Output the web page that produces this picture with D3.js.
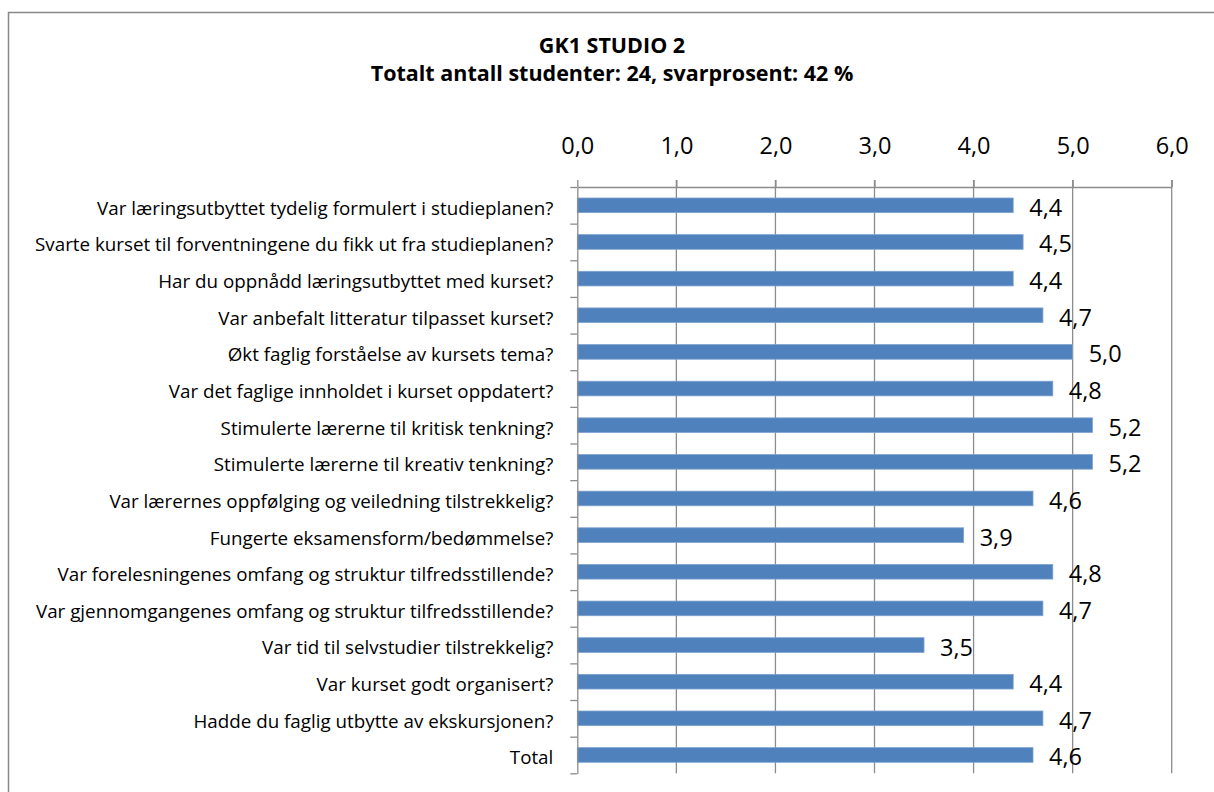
<!DOCTYPE html>
<html>
<head>
<meta charset="utf-8">
<script src="https://cdn.jsdelivr.net/npm/d3@7"></script>
<style>
  body { margin: 0; background: #fff; }
  svg { display: block; font-family: "Open Sans", sans-serif; }
</style>
</head>
<body>
<svg width="1214" height="792"></svg>
<script>
const titleLines = ['GK1 STUDIO 2', 'Totalt antall studenter: 24, svarprosent: 42 %'];

const categories = [
    'Var læringsutbyttet tydelig formulert i studieplanen?',
    'Svarte kurset til forventningene du fikk ut fra studieplanen?',
    'Har du oppnådd læringsutbyttet med kurset?',
    'Var anbefalt litteratur tilpasset kurset?',
    'Økt faglig forståelse av kursets tema?',
    'Var det faglige innholdet i kurset oppdatert?',
    'Stimulerte lærerne til kritisk tenkning?',
    'Stimulerte lærerne til kreativ tenkning?',
    'Var lærernes oppfølging og veiledning tilstrekkelig?',
    'Fungerte eksamensform/bedømmelse?',
    'Var forelesningenes omfang og struktur tilfredsstillende?',
    'Var gjennomgangenes omfang og struktur tilfredsstillende?',
    'Var tid til selvstudier tilstrekkelig?',
    'Var kurset godt organisert?',
    'Hadde du faglig utbytte av ekskursjonen?',
    'Total'
];
const values = [4.4, 4.5, 4.4, 4.7, 5.0, 4.8, 5.2, 5.2, 4.6, 3.9, 4.8, 4.7, 3.5, 4.4, 4.7, 4.6];
const xTicks = [0, 1, 2, 3, 4, 5, 6];

const data = categories.map((c, i) => ({ name: c, value: values[i] }));

const svg = d3.select('svg');
const fmt = v => v.toFixed(1).replace('.', ',');

// chart area border (runs off the right and bottom edge)
svg.append('rect')
    .attr('x', 8.5).attr('y', 12.5)
    .attr('width', 1230).attr('height', 800)
    .attr('fill', 'none')
    .attr('stroke', '#888')
    .attr('stroke-width', 1.5);

// Title
svg.append('text')
    .attr('x', 612).attr('y', 53)
    .attr('text-anchor', 'middle')
    .attr('font-weight', 'bold')
    .attr('font-size', 21.5)
    .text(titleLines[0]);
svg.append('text')
    .attr('x', 612).attr('y', 81)
    .attr('text-anchor', 'middle')
    .attr('font-weight', 'bold')
    .attr('font-size', 21.5)
    .text(titleLines[1]);

const margin = { top: 187, left: 577.3 };
const width = 594.4;
const height = 586.3;
const g = svg.append('g').attr('transform', `translate(${margin.left},${margin.top})`);

// Scales
const x = d3.scaleLinear().domain([0, 6]).range([0, width]);
const y = d3.scaleBand()
    .domain(categories)
    .range([0, height])
    .paddingInner(0.6)
    .paddingOuter(0.3);
const yEdge = d3.scaleLinear().domain([0, categories.length]).range([0, height]);

// Gridlines
g.append('g')
    .selectAll('line')
    .data(xTicks.slice(1))
    .enter().append('line')
    .attr('x1', d => x(d)).attr('x2', d => x(d))
    .attr('y1', -7).attr('y2', height)
    .attr('stroke', '#8c8c8c')
    .attr('stroke-width', 1.3);

// Top axis
const xAxis = g.append('g')
    .call(d3.axisTop(x).tickValues(xTicks).tickFormat(fmt).tickSizeInner(7).tickSizeOuter(0).tickPadding(26));
xAxis.select('.domain').attr('stroke', '#8c8c8c').attr('stroke-width', 1.3);
xAxis.selectAll('.tick line').attr('stroke', '#8c8c8c').attr('stroke-width', 1.3);
xAxis.selectAll('.tick text')
    .attr('font-size', 23.5)
    .attr('font-family', '"Open Sans", sans-serif')
    .attr('fill', '#000');

// Bars
g.selectAll('.bar')
    .data(data)
    .enter().append('rect')
    .attr('class', 'bar')
    .attr('x', 0)
    .attr('y', d => y(d.name))
    .attr('width', d => x(d.value))
    .attr('height', y.bandwidth())
    .attr('fill', '#4f81bd')
    .attr('stroke', '#7fa3cf')
    .attr('stroke-width', 0.8);

// Left axis: ticks at category edges
const yAxis = g.append('g')
    .call(d3.axisLeft(yEdge).tickValues(d3.range(categories.length + 1)).tickFormat('').tickSizeInner(7).tickSizeOuter(0));
yAxis.select('.domain').attr('stroke', '#8c8c8c').attr('stroke-width', 1.3);
yAxis.selectAll('.tick line').attr('stroke', '#8c8c8c').attr('stroke-width', 1.3);

// Category labels
const yLabels = g.append('g')
    .call(d3.axisLeft(y).tickSize(0).tickPadding(24));
yLabels.select('.domain').remove();
yLabels.selectAll('.tick text')
    .attr('font-size', 18.8)
    .attr('font-family', '"Open Sans", sans-serif')
    .attr('fill', '#000')
    .attr('dy', '0.5em');

// Value labels
g.selectAll('.value')
    .data(data)
    .enter().append('text')
    .attr('class', 'value')
    .attr('x', d => x(d.value) + 16)
    .attr('y', d => y(d.name) + y.bandwidth() / 2 + 10.5)
    .attr('font-size', 23.5)
    .attr('fill', '#000')
    .text(d => fmt(d.value));
</script>
</body>
</html>
